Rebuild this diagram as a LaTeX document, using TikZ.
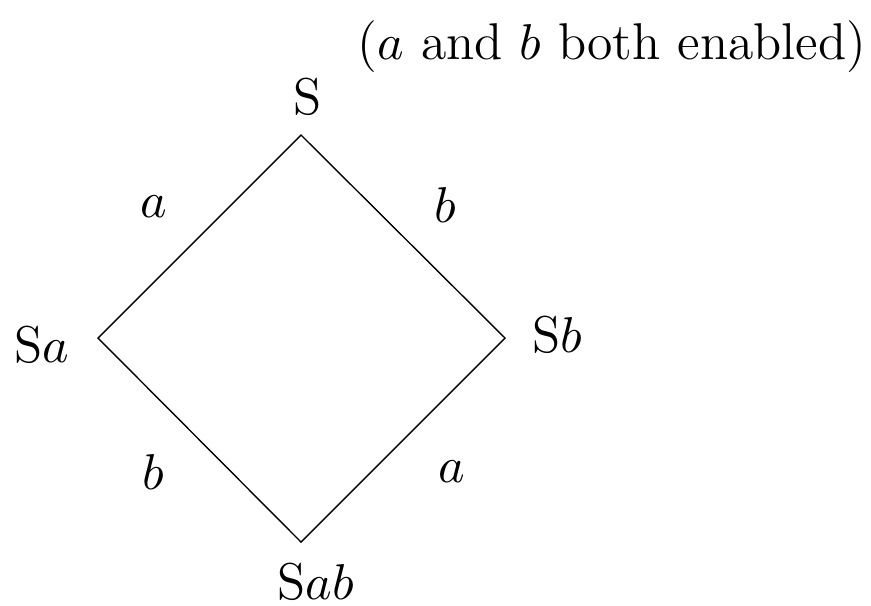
\documentclass[tikz,border=0pt]{standalone}
\begin{document}
\begin{tikzpicture}[x=0.2175pt,y=-0.2175pt,
  lbl/.style={inner sep=0pt,font=\fontsize{11.25}{13.5}\selectfont},
  edge/.style={draw=black,line width=0.3pt}]
\useasboundingbox (0,0) rectangle (871,605);
\coordinate (top) at (301,135);
\coordinate (left) at (98,338);
\coordinate (right) at (505,338);
\coordinate (bot) at (301,542);
\draw[edge] (top) -- (right) -- (bot) -- (left) -- cycle;
\node[lbl] (title) at (612,47) {($a$ and $b$ both enabled)};
\node[lbl] (nS) at (308,97) {S};
\node[lbl] (nSa) at (42,345) {S$a$};
\node[lbl] (nSb) at (557,335) {S$b$};
\node[lbl] (nSab) at (316,582) {S$ab$};
\node[lbl] (ea1) at (154,207) {$a$};
\node[lbl] (eb1) at (445,205) {$b$};
\node[lbl] (eb2) at (153,472) {$b$};
\node[lbl] (ea2) at (452,472) {$a$};
\end{tikzpicture}
\end{document}
